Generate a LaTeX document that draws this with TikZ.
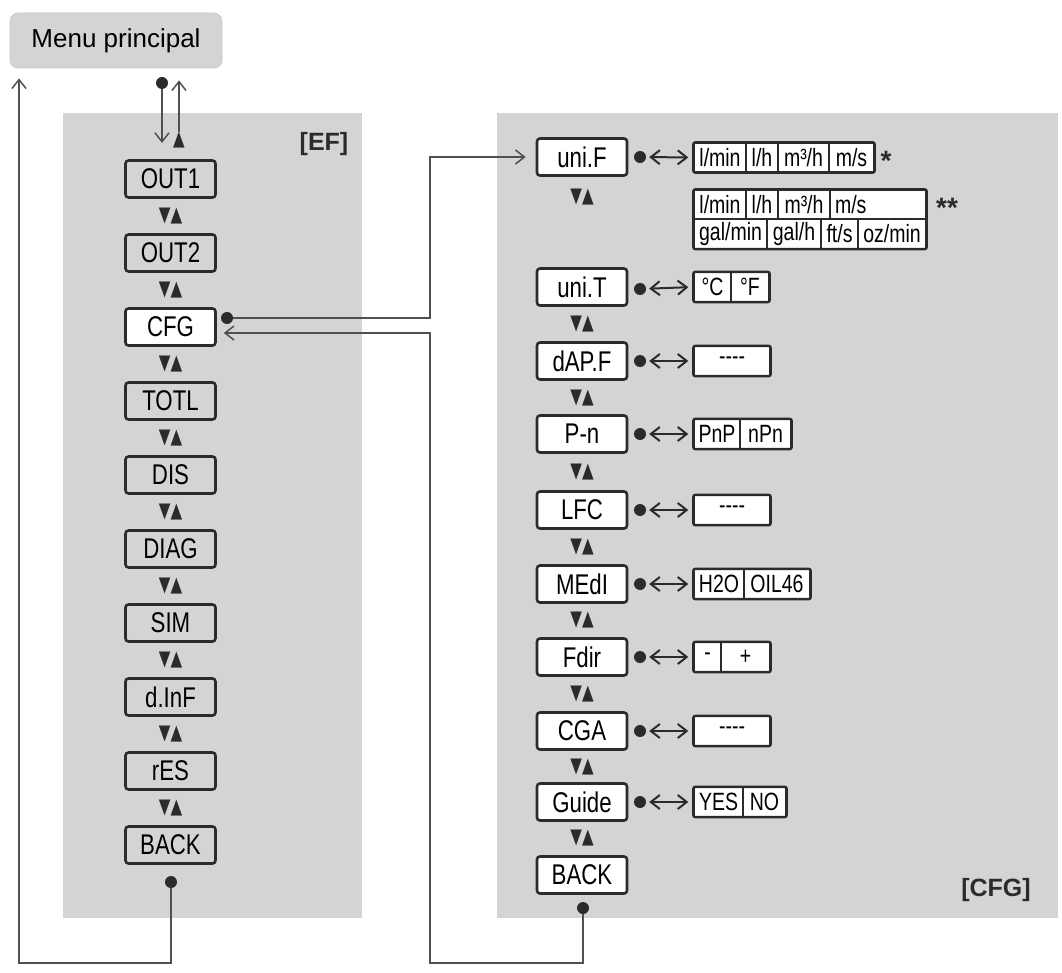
\documentclass[tikz,border=0pt]{standalone}
\usepackage{fontspec}
\usepackage{tikz}
\usetikzlibrary{arrows.meta}
\newfontfamily\plainfont{Liberation Sans}
\newfontfamily\narrowfont[FakeStretch=0.78]{Liberation Sans}
\newfontfamily\trifont[FakeStretch=0.72]{DejaVu Sans}
\definecolor{panelgray}{HTML}{D4D4D4}
\definecolor{boxline}{HTML}{2B2B2B}
\definecolor{wiregray}{HTML}{505050}
\tikzset{
  panel/.style={fill=panelgray, draw=none},
  menubox/.style={fill=panelgray, draw=black!22, line width=0.6pt, rounded corners=8pt,
    minimum width=212pt, minimum height=55pt, inner sep=0pt, font=\plainfont\fontsize{26}{28}\selectfont},
  item/.style={draw=boxline, line width=2.6pt, rounded corners=3pt, fill=white,
    minimum width=90pt, minimum height=37pt, inner sep=0pt, font=\narrowfont\fontsize{28.5}{30}\selectfont},
  itemgray/.style={item, fill=panelgray},
  cell/.style={draw=boxline, line width=1.3pt, fill=white, minimum height=29pt, inner sep=0pt,
    font=\narrowfont\fontsize{25}{26}\selectfont},
  frame/.style={draw=boxline, line width=2.4pt, rounded corners=2pt},
  updown/.style={inner sep=0pt, text=boxline, font=\trifont\fontsize{21}{21}\selectfont},
  dot/.style={circle, fill=boxline, inner sep=0pt, minimum size=12pt},
  link/.style={draw=wiregray, line width=1.5pt, -{Straight Barb[length=9pt,width=14pt]}},
  swap/.style={draw=boxline, line width=2pt,
    {Straight Barb[length=9pt,width=14pt]}-{Straight Barb[length=9pt,width=14pt]},
    shorten <=3pt, shorten >=5pt},
  tag/.style={inner sep=0pt, text=boxline, font=\plainfont\bfseries\fontsize{25}{27}\selectfont},
  star/.style={inner sep=0pt, text=boxline, font=\plainfont\bfseries\fontsize{28}{30}\selectfont}
}
\begin{document}
\begin{tikzpicture}[x=1pt, y=-1pt]
\useasboundingbox (0,0) rectangle (1062,973);
% panels
\fill[panel] (63,113) rectangle (362,918);
\fill[panel] (497,113) rectangle (1058,918);
\node[tag] (tagEF) at (324,144) {[EF]};
\node[tag] (tagCFG) at (996,890) {[CFG]};
\node[menubox] (menu) at (116,40.5) {Menu principal};

% menu [EF]
\node[updown] (upEF) at (179,140) {▲};
\node[itemgray] (out1) at (170.5,179) {OUT1};
\node[updown] (m1) at (170.5,216) {▼▲};
\node[itemgray] (out2) at (170.5,253) {OUT2};
\node[updown] (m2) at (170.5,290) {▼▲};
\node[item] (cfg) at (170.5,327) {CFG};
\node[updown] (m3) at (170.5,364) {▼▲};
\node[itemgray] (totl) at (170.5,401) {TOTL};
\node[updown] (m4) at (170.5,438) {▼▲};
\node[itemgray] (dis) at (170.5,475) {DIS};
\node[updown] (m5) at (170.5,512) {▼▲};
\node[itemgray] (diag) at (170.5,549) {DIAG};
\node[updown] (m6) at (170.5,586) {▼▲};
\node[itemgray] (sim) at (170.5,623) {SIM};
\node[updown] (m7) at (170.5,660) {▼▲};
\node[itemgray] (dinf) at (170.5,697) {d.InF};
\node[updown] (m8) at (170.5,734) {▼▲};
\node[itemgray] (res) at (170.5,771) {rES};
\node[updown] (m9) at (170.5,808) {▼▲};
\node[itemgray] (backEF) at (170.5,845) {BACK};

% menu [CFG]
\node[item] (uniF) at (582,157) {uni.F};
\node[updown] (n1) at (582,197) {▼▲};
\node[item] (uniT) at (582,287) {uni.T};
\node[updown] (n2) at (582,324) {▼▲};
\node[item] (dapf) at (582,361) {dAP.F};
\node[updown] (n3) at (582,398) {▼▲};
\node[item] (pn) at (582,434) {P-n};
\node[updown] (n4) at (582,472) {▼▲};
\node[item] (lfc) at (582,510) {LFC};
\node[updown] (n5) at (582,547) {▼▲};
\node[item] (medi) at (582,584) {MEdI};
\node[updown] (n6) at (582,620) {▼▲};
\node[item] (fdir) at (582,657) {Fdir};
\node[updown] (n7) at (582,694) {▼▲};
\node[item] (cga) at (582,731) {CGA};
\node[updown] (n8) at (582,767) {▼▲};
\node[item] (guide) at (582,802) {Guide};
\node[updown] (n9) at (582,838) {▼▲};
\node[item] (backCFG) at (582,875) {BACK};

% values
\node[cell, minimum width=52pt] (fA1) at (720,157.5) {l/min};
\node[cell, minimum width=32pt] (fA2) at (762,157.5) {l/h};
\node[cell, minimum width=51pt] (fA3) at (803.5,157.5) {m³/h};
\node[cell, minimum width=45pt] (fA4) at (851.5,157.5) {m/s};
\draw[frame] (fA1.north west) rectangle (fA4.south east);
\node[star] (starA) at (886,161) {*};
\node[cell, minimum width=52pt] (fB1) at (720,204.5) {l/min};
\node[cell, minimum width=32pt] (fB2) at (762,204.5) {l/h};
\node[cell, minimum width=52pt] (fB3) at (804,204.5) {m³/h};
\node[cell, minimum width=96pt, inner xsep=5pt, text width=86pt, align=left] (fB4) at (878,204.5) {m/s};
\node[cell, minimum width=73pt] (fC1) at (730.5,234) {gal/min};
\node[cell, minimum width=54pt] (fC2) at (794,234) {gal/h};
\node[cell, minimum width=37pt] (fC3) at (839.5,234) {ft/s};
\node[cell, minimum width=68pt] (fC4) at (892,234) {oz/min};
\draw[frame] (fB1.north west) rectangle (fC4.south east);
\node[star] (starB) at (947,208) {**};
\node[cell, minimum width=37pt] (tA1) at (712.5,287) {°C};
\node[cell, minimum width=38pt] (tA2) at (750,287) {°F};
\draw[frame] (tA1.north west) rectangle (tA2.south east);
\node[cell, minimum width=76pt] (dA1) at (732,361) {-{}-{}-{}-};
\draw[frame] (dA1.north west) rectangle (dA1.south east);
\node[cell, minimum width=46pt] (pA1) at (717,434) {PnP};
\node[cell, minimum width=51pt] (pA2) at (765.5,434) {nPn};
\draw[frame] (pA1.north west) rectangle (pA2.south east);
\node[cell, minimum width=76pt] (lA1) at (732,510) {-{}-{}-{}-};
\draw[frame] (lA1.north west) rectangle (lA1.south east);
\node[cell, minimum width=50pt] (mA1) at (719,584) {H2O};
\node[cell, minimum width=66pt] (mA2) at (777,584) {OIL46};
\draw[frame] (mA1.north west) rectangle (mA2.south east);
\node[cell, minimum width=27pt] (rA1) at (707.5,657) {-};
\node[cell, minimum width=49pt] (rA2) at (745.5,657) {+};
\draw[frame] (rA1.north west) rectangle (rA2.south east);
\node[cell, minimum width=76pt] (cA1) at (732,731) {-{}-{}-{}-};
\draw[frame] (cA1.north west) rectangle (cA1.south east);
\node[cell, minimum width=49pt] (gA1) at (718.5,802) {YES};
\node[cell, minimum width=43pt] (gA2) at (764.5,802) {NO};
\draw[frame] (gA1.north west) rectangle (gA2.south east);

% dots and value arrows
\node[dot] (dUniF) at (640,157) {};
\node[dot] (dUniT) at (640,289) {};
\node[dot] (dDapf) at (640,361) {};
\node[dot] (dPn) at (640,434) {};
\node[dot] (dLfc) at (640,510) {};
\node[dot] (dMedi) at (640,584) {};
\node[dot] (dFdir) at (640,657) {};
\node[dot] (dCga) at (640,731) {};
\node[dot] (dGuide) at (640,802) {};
\draw[swap] (dUniF) -- (fA1.west);
\draw[swap] (dUniT) -- (tA1.west);
\draw[swap] (dDapf) -- (dA1.west);
\draw[swap] (dPn) -- (pA1.west);
\draw[swap] (dLfc) -- (lA1.west);
\draw[swap] (dMedi) -- (mA1.west);
\draw[swap] (dFdir) -- (rA1.west);
\draw[swap] (dCga) -- (cA1.west);
\draw[swap] (dGuide) -- (gA1.west);

% links between menus
\node[dot] (dMenu) at (162,83) {};
\coordinate (inEF) at (162,143);
\draw[link] (dMenu) -- (inEF);
\draw[link, shorten >=12pt] (upEF.north) -- (upEF.north |- menu.south);
\node[dot] (dBackEF) at (171,882) {};
\coordinate (lowL) at (19,963);
\draw[link, shorten >=10pt] (dBackEF) |- (lowL) -- (lowL |- menu.south);
\node[dot] (dCFG) at (227,318) {};
\coordinate (busA) at (430,318);
\draw[link, shorten >=10pt] (dCFG) -- (busA) |- (uniF.west);
\node[dot] (dBackCFG) at (583,908) {};
\coordinate (lowR) at (430,963);
\coordinate (retCFG) at ([yshift=-6pt]cfg.east);
\draw[link, shorten >=7pt] (dBackCFG) |- (lowR) |- (retCFG);
\end{tikzpicture}
\end{document}
